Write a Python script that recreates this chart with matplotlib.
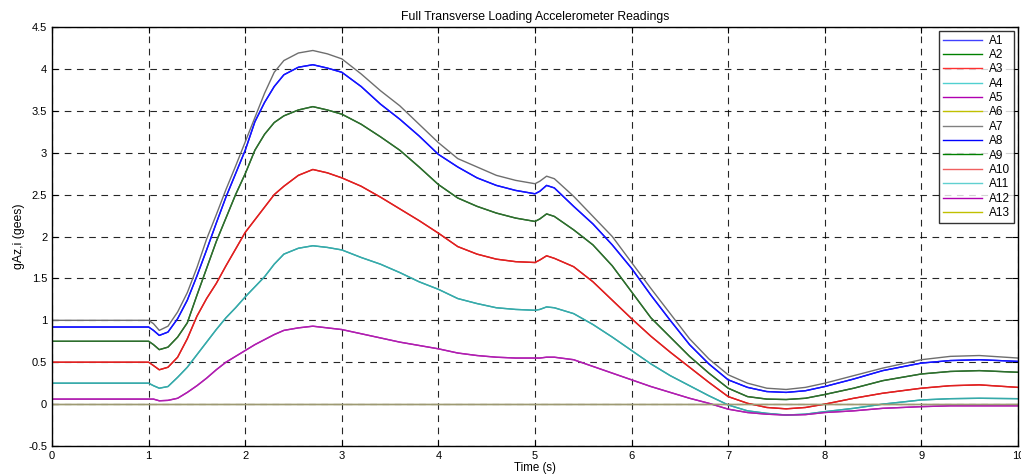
import numpy as np
import matplotlib
matplotlib.use("Agg")
import matplotlib.pyplot as plt

plt.rcParams['font.family'] = ['Liberation Sans', 'DejaVu Sans']

# time samples (s)
t = [0, 1.0, 1.05, 1.11, 1.2, 1.3, 1.4, 1.5, 1.6, 1.7, 1.8, 1.9, 2.0, 2.1, 2.2, 2.3, 2.4, 2.55,
     2.7, 2.85, 3.0, 3.2, 3.4, 3.6, 3.8, 4.0, 4.2, 4.4, 4.6, 4.8, 5.0, 5.05, 5.12, 5.2, 5.4, 5.6,
     5.8, 6.0, 6.2, 6.4, 6.6, 6.8, 7.0, 7.2, 7.4, 7.6, 7.8, 8.0, 8.3, 8.6, 9.0, 9.3, 9.6, 10.0]

# accelerometer readings (gees)
a_top = [1.0, 1.0, 0.96, 0.88, 0.93, 1.1, 1.33, 1.63, 1.97, 2.26, 2.56, 2.84, 3.13, 3.42, 3.71, 3.96, 4.1, 4.19,
         4.22, 4.18, 4.12, 3.94, 3.74, 3.56, 3.34, 3.12, 2.93, 2.83, 2.73, 2.67, 2.63, 2.66, 2.72, 2.69, 2.48, 2.24,
         2.0, 1.69, 1.38, 1.08, 0.78, 0.54, 0.35, 0.25, 0.19, 0.175, 0.2, 0.25, 0.34, 0.43, 0.53, 0.57, 0.58, 0.55]
a_blue = [0.92, 0.92, 0.88, 0.82, 0.86, 1.02, 1.24, 1.53, 1.84, 2.16, 2.47, 2.75, 3.03, 3.37, 3.6, 3.79, 3.93, 4.02,
          4.05, 4.01, 3.96, 3.79, 3.58, 3.4, 3.2, 2.98, 2.83, 2.7, 2.61, 2.55, 2.51, 2.54, 2.61, 2.58, 2.36, 2.15,
          1.9, 1.62, 1.3, 1.0, 0.71, 0.48, 0.29, 0.2, 0.15, 0.14, 0.16, 0.21, 0.3, 0.4, 0.49, 0.52, 0.53, 0.51]
a_green = [0.75, 0.75, 0.71, 0.65, 0.68, 0.8, 0.97, 1.3, 1.62, 1.94, 2.22, 2.5, 2.75, 3.03, 3.22, 3.36, 3.44, 3.51,
           3.55, 3.51, 3.46, 3.34, 3.19, 3.03, 2.83, 2.62, 2.46, 2.36, 2.28, 2.22, 2.18, 2.21, 2.27, 2.24, 2.08, 1.9,
           1.65, 1.34, 1.03, 0.8, 0.57, 0.37, 0.19, 0.09, 0.06, 0.055, 0.07, 0.115, 0.19, 0.28, 0.36, 0.39, 0.4, 0.38]
a_red = [0.5, 0.5, 0.46, 0.41, 0.44, 0.56, 0.78, 1.05, 1.26, 1.44, 1.65, 1.85, 2.05, 2.2, 2.35, 2.5, 2.6, 2.73,
         2.8, 2.76, 2.7, 2.6, 2.47, 2.33, 2.19, 2.04, 1.88, 1.79, 1.73, 1.7, 1.69, 1.72, 1.77, 1.74, 1.64, 1.46,
         1.24, 1.02, 0.81, 0.62, 0.44, 0.26, 0.09, 0.01, -0.04, -0.056, -0.04, 0.0, 0.07, 0.13, 0.19, 0.22, 0.23, 0.2]
a_cyan = [0.25, 0.25, 0.22, 0.19, 0.21, 0.32, 0.44, 0.59, 0.74, 0.89, 1.03, 1.15, 1.28, 1.4, 1.52, 1.67, 1.79, 1.86,
          1.89, 1.87, 1.84, 1.75, 1.67, 1.57, 1.46, 1.37, 1.26, 1.2, 1.15, 1.13, 1.12, 1.13, 1.16, 1.15, 1.08, 0.95,
          0.8, 0.64, 0.48, 0.34, 0.22, 0.1, -0.01, -0.08, -0.11, -0.13, -0.12, -0.09, -0.05, 0.0, 0.05, 0.065, 0.07, 0.065]
a_mag = [0.06, 0.06, 0.06, 0.04, 0.045, 0.07, 0.14, 0.22, 0.31, 0.41, 0.5, 0.57, 0.64, 0.71, 0.77, 0.83, 0.88, 0.91,
         0.93, 0.91, 0.89, 0.84, 0.79, 0.74, 0.7, 0.66, 0.61, 0.58, 0.56, 0.55, 0.55, 0.55, 0.56, 0.56, 0.53, 0.45,
         0.37, 0.29, 0.21, 0.14, 0.07, 0.01, -0.06, -0.1, -0.12, -0.13, -0.125, -0.1, -0.08, -0.05, -0.03, -0.02, -0.02, -0.02]
a_zero = [0.0] * len(t)

labels = ['A%d' % i for i in range(1, 14)]
series = [a_blue, a_green, a_red, a_cyan, a_mag, a_zero, a_top,
          a_blue, a_green, a_red, a_cyan, a_mag, a_zero]
line_colors = ['#1414ff', '#2d6e2d', '#e02020', '#36aaaa', '#b01eb0', '#9e9a72', '#6e6e6e',
               '#1414ff', '#2d6e2d', '#e02020', '#36aaaa', '#b01eb0', '#9e9a72']
legend_colors = ['#4040ff', '#008000', '#ff3030', '#50d0d0', '#b000b0', '#c0c000', '#808080',
                 '#0000ff', '#008000', '#f06060', '#60d0d0', '#b000b0', '#c0c000']

fig = plt.figure(figsize=(10.21, 4.74), dpi=100)
ax = fig.add_axes([0.051, 0.059, 0.946, 0.884])

for y, c, lab in zip(series, line_colors, labels):
    ax.plot(t, y, color=c, linewidth=1.0, label=lab)

ax.set_xlim(0, 10)
ax.set_ylim(-0.5, 4.5)
ax.set_xticks(np.arange(0, 11, 1))
ax.set_yticks(np.arange(-0.5, 4.6, 0.5))
ax.set_yticklabels(['-0.5', '0', '0.5', '1', '1.5', '2', '2.5', '3', '3.5', '4', '4.5'])
ax.grid(True, color='black', linestyle=(0, (6, 5)), linewidth=0.8, alpha=0.85)
ax.tick_params(direction='in', top=True, right=True, labelsize=8, length=4)
for s in ax.spines.values():
    s.set_linewidth(1.0)

ax.set_title('Full Transverse Loading Accelerometer Readings', fontsize=8.8, pad=5)
ax.set_xlabel('Time (s)', fontsize=8.3, labelpad=1)
ax.set_ylabel('gAz,i (gees)', fontsize=8.8, labelpad=2)

leg = ax.legend(loc='upper right', fontsize=8.5, frameon=True, fancybox=False,
                edgecolor='black', handlelength=3.3, handletextpad=0.6,
                labelspacing=0.2, borderpad=0.35, borderaxespad=0.3)
leg.get_frame().set_linewidth(1.0)
for ln, c in zip(leg.get_lines(), legend_colors):
    ln.set_color(c)

fig.savefig('out.png', dpi=100)
